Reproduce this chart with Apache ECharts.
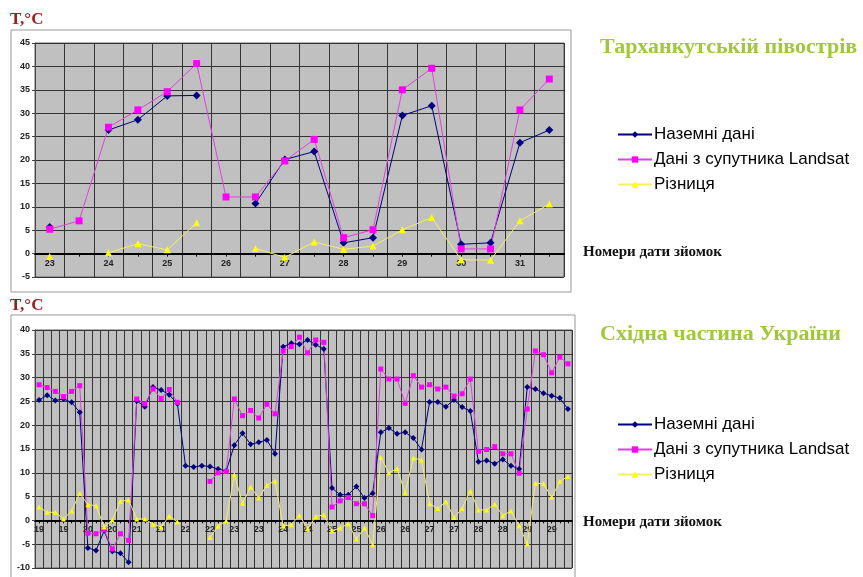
<!DOCTYPE html>
<html>
<head>
<meta charset="utf-8">
<script src="https://cdn.jsdelivr.net/npm/echarts@6/dist/echarts.min.js"></script>
<style>html,body{margin:0;padding:0;background:#fff;}#c{width:863px;height:577px;}</style>
</head>
<body>
<div id="c"></div>
<script>
// ---- Data: Тарханкутській півострів (top chart) ----
const topCategories = ['23','23','24','24','25','25','26','26','27','27','28','28','29','29','30','30','31','31'];
const topGround  = [5.7, null, 26.4, 28.6, 33.7, 33.8, null, 10.7, 20.1, 21.8, 2.3, 3.4, 29.5, 31.6, 2.0, 2.3, 23.7, 26.4];
const topLandsat = [5.2, 7.0, 27.0, 30.7, 34.6, 40.6, 12.1, 12.1, 19.8, 24.4, 3.4, 5.1, 35.0, 39.6, 1.0, 1.0, 30.7, 37.3];
const topDiff    = [-0.6, null, 0.2, 2.1, 0.8, 6.6, null, 1.1, -0.8, 2.5, 0.9, 1.6, 5.1, 7.7, -1.3, -1.4, 7.0, 10.6];

// ---- Data: Східна частина України (bottom chart) ----
const botCategories = [
 '19','19','19','19','19','19','20','20','20','20','20','20',
 '21','21','21','21','21','21','22','22','22','22','22','22',
 '23','23','23','23','23','23','24','24','24','24','24','24',
 '25','25','25','25','25','25','26','26','26','26','26','26',
 '27','27','27','27','27','27','28','28','28','28','28','28',
 '29','29','29','29','29','29'];
const botGround = [25.3,26.3,25.2,25.5,24.8,22.7,-5.8,-6.3,-2.2,-6.5,-6.9,-8.8,
 25.1,23.9,28.0,27.4,26.4,24.5,11.5,11.2,11.5,11.3,10.8,10.4,
 15.8,18.3,16.0,16.4,16.9,14.0,36.5,37.2,37.0,37.9,36.9,36.0,
 6.8,5.4,5.4,7.1,4.7,5.7,18.5,19.4,18.2,18.5,17.3,14.9,
 24.9,24.9,23.9,25.3,23.8,23.0,12.3,12.6,11.9,12.8,11.5,10.8,
 28.0,27.6,26.7,26.2,25.7,23.4];
const botLandsat = [28.5,27.9,27.1,26.0,27.1,28.3,-2.7,-2.8,-2.0,-6.0,-2.8,-4.2,
 25.5,24.5,27.6,25.6,27.5,24.8,null,null,null,8.2,10.0,10.3,
 25.5,22.0,23.1,21.5,24.4,22.4,35.6,36.5,38.5,35.2,37.9,37.4,
 2.8,4.1,4.8,3.5,3.5,1.0,31.8,29.7,29.7,24.6,30.4,28.0,
 28.5,27.6,28.0,26.1,26.6,29.7,14.5,14.9,15.5,14.0,14.0,9.9,
 23.4,35.6,34.8,31.0,34.3,32.9];
const botDiff = [2.8,1.7,1.7,0.3,2.0,5.7,3.3,3.1,-1.4,0.1,4.0,4.3,
 0.3,0.3,-0.8,-1.4,0.9,-0.3,null,null,null,-3.6,-1.2,-0.1,
 9.6,3.6,7.0,4.7,7.4,8.3,-1.2,-0.9,1.1,-1.8,0.8,1.2,
 -2.2,-1.6,-0.7,-3.9,-1.6,-5.1,13.2,10.0,10.9,5.8,13.1,12.7,
 3.5,2.5,3.9,0.6,2.5,6.2,2.2,2.2,3.4,1.0,2.0,-1.1,
 -4.9,7.8,7.7,4.8,8.2,9.2];

const seriesNames = ['Наземні дані', 'Дані з супутника Landsat', 'Різниця'];
const titles = ['Тарханкутській півострів', 'Східна частина України'];
const unitLabel = 'T,°C';
const xName = 'Номери дати зйомок';

const NAVY = '#000080', PINK = '#ff00ff', YEL = '#ffff00';

// grid geometry (pixels) and value ranges
const TOP = { left: 35, top: 43, width: 529, height: 234, min: -5, max: 45 };
const BOT = { left: 35, top: 330, width: 537, height: 238, min: -10, max: 40 };
function zeroOffset(g) { return -g.height * (0 - g.min) / (g.max - g.min); }

function xAxisCfg(idx, cats, labelInterval, g) {
  return {
    type: 'category', gridIndex: idx, data: cats, boundaryGap: true,
    position: 'bottom', offset: zeroOffset(g),
    axisLine: { onZero: false, lineStyle: { color: '#000', width: 2 } },
    axisTick: { show: true, alignWithLabel: true, interval: 0, length: 3, lineStyle: { color: '#000' } },
    axisLabel: { interval: labelInterval, fontSize: 9, fontWeight: 'bold', color: '#222', margin: 5, fontFamily: 'Liberation Sans' },
    splitLine: { show: true, interval: 0, lineStyle: { color: '#333', width: 1 } }
  };
}
function yAxisCfg(idx, g) {
  return {
    type: 'value', gridIndex: idx, min: g.min, max: g.max, interval: 5,
    axisLine: { show: true, lineStyle: { color: '#444' } },
    axisTick: { show: true, length: 3, lineStyle: { color: '#444' } },
    axisLabel: { fontSize: 9, fontWeight: 'bold', color: '#222', margin: 5, fontFamily: 'Liberation Sans' },
    splitLine: { show: true, lineStyle: { color: '#333', width: 1 } }
  };
}
function mkSeries(idx, g, l, d, size) {
  return [
    { name: seriesNames[0], type: 'line', xAxisIndex: idx, yAxisIndex: idx, data: g, symbol: 'diamond', symbolSize: size + 1,
      showAllSymbol: true, lineStyle: { color: NAVY, width: 1 }, itemStyle: { color: NAVY }, connectNulls: false },
    { name: seriesNames[1], type: 'line', xAxisIndex: idx, yAxisIndex: idx, data: l, symbol: 'rect', symbolSize: size,
      showAllSymbol: true, lineStyle: { color: '#e040e0', width: 1 }, itemStyle: { color: PINK }, connectNulls: false },
    { name: seriesNames[2], type: 'line', xAxisIndex: idx, yAxisIndex: idx, data: d, symbol: 'triangle', symbolSize: size,
      showAllSymbol: true, lineStyle: { color: '#f5f060', width: 1 }, itemStyle: { color: YEL }, connectNulls: false }
  ];
}
function legendCfg(top) {
  return {
    orient: 'vertical', left: 612, top: top, itemGap: 8, itemWidth: 34, itemHeight: 8,
    data: seriesNames, selectedMode: false,
    textStyle: { fontSize: 17, color: '#000', fontFamily: 'Liberation Sans', padding: [0, 0, 0, -3] }
  };
}

const chart = echarts.init(document.getElementById('c'), null, { renderer: 'canvas' });
chart.setOption({
  animation: false,
  backgroundColor: '#fff',
  grid: [
    { left: TOP.left, top: TOP.top, width: TOP.width, height: TOP.height, show: true, backgroundColor: '#c0c0c0', borderColor: '#666', borderWidth: 1 },
    { left: BOT.left, top: BOT.top, width: BOT.width, height: BOT.height, show: true, backgroundColor: '#c0c0c0', borderColor: '#666', borderWidth: 1 }
  ],
  xAxis: [xAxisCfg(0, topCategories, 1, TOP), xAxisCfg(1, botCategories, 2, BOT)],
  yAxis: [yAxisCfg(0, TOP), yAxisCfg(1, BOT)],
  legend: [legendCfg(121), legendCfg(411)],
  series: mkSeries(0, topGround, topLandsat, topDiff, 7).concat(mkSeries(1, botGround, botLandsat, botDiff, 5)),
  graphic: [
    { type: 'rect', shape: { x: 11, y: 30, width: 560, height: 262 }, style: { fill: 'none', stroke: '#999', lineWidth: 1 }, silent: true },
    { type: 'rect', shape: { x: 11, y: 315, width: 564, height: 270 }, style: { fill: 'none', stroke: '#999', lineWidth: 1 }, silent: true },
    { type: 'text', left: 10, top: 11, style: { text: unitLabel, font: 'bold 17px "Liberation Serif"', fill: '#9b1c1c' } },
    { type: 'text', left: 10, top: 297, style: { text: unitLabel, font: 'bold 17px "Liberation Serif"', fill: '#9b1c1c' } },
    { type: 'text', left: 600, top: 36, style: { text: titles[0], font: 'bold 22px "Liberation Serif"', fill: '#a2c83a' } },
    { type: 'text', left: 600, top: 323, style: { text: titles[1], font: 'bold 22px "Liberation Serif"', fill: '#a2c83a' } },
    { type: 'text', left: 583, top: 245, style: { text: xName, font: 'bold 15px "Liberation Serif"', fill: '#111' } },
    { type: 'text', left: 583, top: 515, style: { text: xName, font: 'bold 15px "Liberation Serif"', fill: '#111' } }
  ]
});
</script>
</body>
</html>
